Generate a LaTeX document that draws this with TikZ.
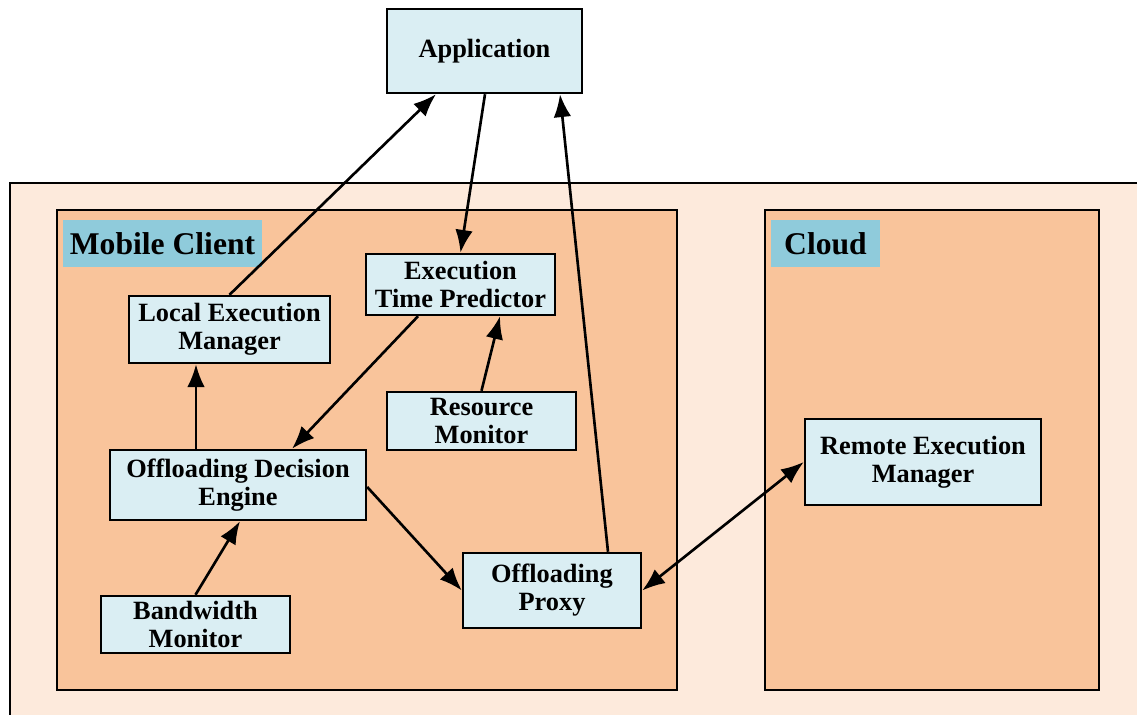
\documentclass[tikz,border=0pt]{standalone}
\usepackage{fontspec}
\setmainfont{Liberation Serif}
\usetikzlibrary{arrows.meta,positioning}

\definecolor{outerfill}{HTML}{FDEADC}
\definecolor{zonefill}{HTML}{F9C49B}
\definecolor{boxfill}{HTML}{DAEEF3}
\definecolor{tagfill}{HTML}{8FCBDB}

\tikzset{
  comp/.style={draw, line width=1.4pt, fill=boxfill, align=center,
    font=\fontsize{15}{16}\selectfont\bfseries, inner sep=0pt},
  zonetag/.style={fill=tagfill, font=\fontsize{18}{20}\selectfont\bfseries,
    inner sep=0pt},
  flow/.style={line width=1.5pt, -{Latex[length=13pt,width=10pt]}},
  dflow/.style={line width=1.5pt, {Latex[length=13pt,width=10pt]}-{Latex[length=13pt,width=10pt]}}
}

\begin{document}
\begin{tikzpicture}[x=0.02cm,y=-0.02cm]
\useasboundingbox (0,0) rectangle (1137,715);
\clip (0,0) rectangle (1137,715);
% zones
\draw[line width=1.3pt, fill=outerfill] (10,183) rectangle (1160,740);
\draw[line width=1.3pt, fill=zonefill] (57,210) rectangle (677,690);
\draw[line width=1.3pt, fill=zonefill] (765,210) rectangle (1099,690);
\node[zonetag, minimum width=3.98cm, minimum height=0.94cm] (mtag) at (162.5,243.5) {Mobile Client};
\node[zonetag, minimum width=2.18cm, minimum height=0.94cm] (ctag) at (825.5,243.5) {Cloud};
% components
\node[comp, minimum width=3.9cm, minimum height=1.68cm] (app) at (484.5,51) {Application};
\node[comp, minimum width=3.78cm, minimum height=1.22cm] (etp) at (460.5,284.5) {Execution\\Time Predictor};
\node[comp, minimum width=4.02cm, minimum height=1.34cm] (lem) at (229.5,329.5) {Local Execution\\Manager};
\node[comp, minimum width=3.78cm, minimum height=1.16cm] (rmon) at (481.5,421) {Resource\\Monitor};
\node[comp, minimum width=5.12cm, minimum height=1.4cm] (ode) at (238,485) {Offloading Decision\\Engine};
\node[comp, minimum width=4.72cm, minimum height=1.72cm] (rem) at (923,462) {Remote Execution\\Manager};
\node[comp, minimum width=3.56cm, minimum height=1.5cm] (prx) at (552,590.5) {Offloading\\Proxy};
\node[comp, minimum width=3.78cm, minimum height=1.14cm] (bmon) at (195.5,624.5) {Bandwidth\\Monitor};
% connectors
\draw[flow] (lem.north) -- (app.south west -| 436,0);
\draw[flow] (app.south -| 485,0) -- (etp.north);
\draw[flow] (prx.north -| 608,0) -- (app.south -| 560,0);
\draw[flow] (etp.south -| 418,0) -- (ode.north -| 292,0);
\draw[flow] (rmon.north) -- (etp.south -| 500,0);
\draw[flow] (ode.north -| 196,0) -- (lem.south -| 196,0);
\draw[flow] (bmon.north) -- (ode.south -| 240,0);
\draw[flow] (ode.east |- 0,487) -- (prx.west);
\draw[dflow] (prx.east) -- (rem.west);
\end{tikzpicture}
\end{document}
